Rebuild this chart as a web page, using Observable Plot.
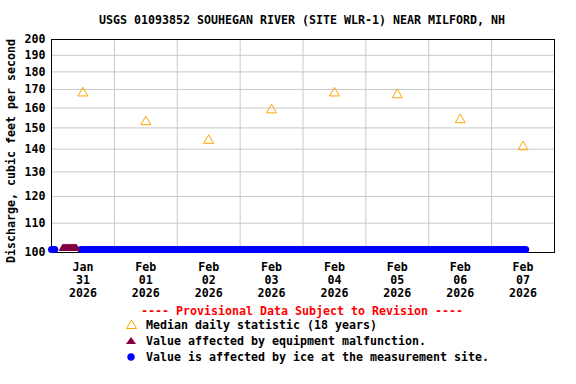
<!DOCTYPE html>
<html>
<head>
<meta charset="utf-8">
<script src="https://cdn.jsdelivr.net/npm/d3@7"></script>
<script src="https://cdn.jsdelivr.net/npm/@observablehq/plot@0.6"></script>
<style>
  body { margin: 0; background: white; }
  #wrap { position: relative; width: 576px; height: 384px; overflow: hidden; background: white; }
  #wrap > svg { position: absolute; left: 0; top: 0; }
  .t { font-family: "DejaVu Sans Mono", monospace; font-weight: bold; font-size: 11.63px; }
</style>
</head>
<body>
<div id="wrap"></div>
<script>
// ---- data ----
const titleText = "USGS 01093852 SOUHEGAN RIVER (SITE WLR-1) NEAR MILFORD, NH";
const yLabel = "Discharge, cubic feet per second";
const yTicks = [100, 110, 120, 130, 140, 150, 160, 170, 180, 190, 200];
const tickTimes = ["2026-01-31T12:00Z", "2026-02-01T12:00Z", "2026-02-02T12:00Z", "2026-02-03T12:00Z",
                   "2026-02-04T12:00Z", "2026-02-05T12:00Z", "2026-02-06T12:00Z", "2026-02-07T12:00Z"];
const tickMonths = ["Jan", "Feb", "Feb", "Feb", "Feb", "Feb", "Feb", "Feb"];
const tickDays = ["31", "01", "02", "03", "04", "05", "06", "07"];
const tickYears = ["2026", "2026", "2026", "2026", "2026", "2026", "2026", "2026"];
const gridTimes = ["2026-02-01T00:00Z", "2026-02-02T00:00Z", "2026-02-03T00:00Z", "2026-02-04T00:00Z",
                   "2026-02-05T00:00Z", "2026-02-06T00:00Z", "2026-02-07T00:00Z"];
const xDomain = ["2026-01-31T00:00Z", "2026-02-08T00:00Z"];
const medianTimes = tickTimes;
const medianValues = [168, 153, 144, 159, 168, 167, 154, 141];
const iceStarts = ["2026-01-31T00:00Z", "2026-01-31T11:15Z"];
const iceEnds = ["2026-01-31T01:15Z", "2026-02-07T13:00Z"];
const iceValue = 101;
const malfunctionTimes = [
  "2026-01-31T04:15Z", "2026-01-31T04:30Z", "2026-01-31T04:45Z", "2026-01-31T05:00Z",
  "2026-01-31T05:15Z", "2026-01-31T05:30Z", "2026-01-31T05:45Z", "2026-01-31T06:00Z",
  "2026-01-31T06:15Z", "2026-01-31T06:30Z", "2026-01-31T06:45Z", "2026-01-31T07:00Z",
  "2026-01-31T07:15Z", "2026-01-31T07:30Z", "2026-01-31T07:45Z", "2026-01-31T08:00Z",
  "2026-01-31T08:15Z", "2026-01-31T08:30Z", "2026-01-31T08:45Z", "2026-01-31T09:00Z",
  "2026-01-31T09:15Z", "2026-01-31T09:30Z"];
const malfunctionValue = 101.3;
const legendHeader = "---- Provisional Data Subject to Revision ----";
const legendItems = ["Median daily statistic (18 years)",
                     "Value affected by equipment malfunction.",
                     "Value is affected by ice at the measurement site."];

// ---- tables ----
const ticks = tickTimes.map(d => new Date(d));
const tickLabel = new Map(ticks.map((d, i) => [+d, `${tickMonths[i]}\n${tickDays[i]}\n${tickYears[i]}`]));
const medians = medianTimes.map((t, i) => ({t: new Date(t), v: medianValues[i]}));
const ice = iceStarts.map((s, i) => ({s: new Date(s), e: new Date(iceEnds[i]), v: iceValue}));
const malf = malfunctionTimes.map(t => ({t: new Date(t), v: malfunctionValue}));

const chart = Plot.plot({
  width: 576,
  height: 384,
  marginTop: 39,
  marginBottom: 132,
  marginLeft: 51,
  marginRight: 22,
  style: {fontFamily: "DejaVu Sans Mono, monospace", fontWeight: "bold", fontSize: "11.63px", color: "black", background: "white"},
  x: {type: "utc", domain: xDomain.map(d => new Date(d))},
  y: {type: "log", domain: [yTicks[0], yTicks[yTicks.length - 1]]},
  marks: [
    Plot.gridY(yTicks.slice(1, -1), {stroke: "#c8c8c8", strokeOpacity: 1}),
    Plot.gridX(gridTimes.map(d => new Date(d)), {stroke: "#c8c8c8", strokeOpacity: 1}),
    Plot.frame({stroke: "black"}),
    Plot.axisY(yTicks, {tickSize: 0, tickPadding: 6, tickFormat: d => String(d), label: null, fill: "black"}),
    Plot.axisX(ticks, {tickSize: 0, tickPadding: 9, tickFormat: d => tickLabel.get(+d), label: null, lineHeight: 1.12, fill: "black"}),
    Plot.text([yLabel], {frameAnchor: "left", textAnchor: "middle", lineAnchor: "middle", text: d => d, rotate: -90, dx: -40, dy: 5, fill: "black"}),
    Plot.dot(medians, {x: "t", y: "v", symbol: "triangle", r: 3.7, stroke: "#ffa500", fill: "none", strokeWidth: 1}),
    Plot.link(ice, {x1: "s", x2: "e", y1: "v", y2: "v", stroke: "#0000ff", strokeWidth: 7, strokeLinecap: "round"}),
    Plot.dot(malf, {x: "t", y: "v", symbol: "triangle", r: 3, fill: "#800040", stroke: "none"})
  ]
});

const wrap = document.getElementById("wrap");
wrap.appendChild(chart);

// ---- title and legend overlay ----
const ns = "http://www.w3.org/2000/svg";
const ov = document.createElementNS(ns, "svg");
ov.setAttribute("width", 576);
ov.setAttribute("height", 384);
function txt(s, x, y, anchor, fill) {
  const e = document.createElementNS(ns, "text");
  e.setAttribute("class", "t");
  e.setAttribute("x", x);
  e.setAttribute("y", y);
  e.setAttribute("text-anchor", anchor);
  e.setAttribute("fill", fill);
  e.textContent = s;
  ov.appendChild(e);
}
txt(titleText, 302, 24, "middle", "black");
txt(legendHeader, 302, 315, "middle", "#ff0000");
const rows = [329, 345, 361];
legendItems.forEach((s, i) => txt(s, 146, rows[i], "start", "black"));
const tri1 = document.createElementNS(ns, "polygon");
tri1.setAttribute("points", "126.5,328.5 131.5,320 136.5,328.5");
tri1.setAttribute("fill", "none");
tri1.setAttribute("stroke", "#ffa500");
ov.appendChild(tri1);
const tri2 = document.createElementNS(ns, "polygon");
tri2.setAttribute("points", "126,344 131,337 136,344");
tri2.setAttribute("fill", "#800040");
ov.appendChild(tri2);
const dot = document.createElementNS(ns, "circle");
dot.setAttribute("cx", 131);
dot.setAttribute("cy", 357);
dot.setAttribute("r", 3.7);
dot.setAttribute("fill", "#0000ff");
ov.appendChild(dot);
wrap.appendChild(ov);
</script>
</body>
</html>
